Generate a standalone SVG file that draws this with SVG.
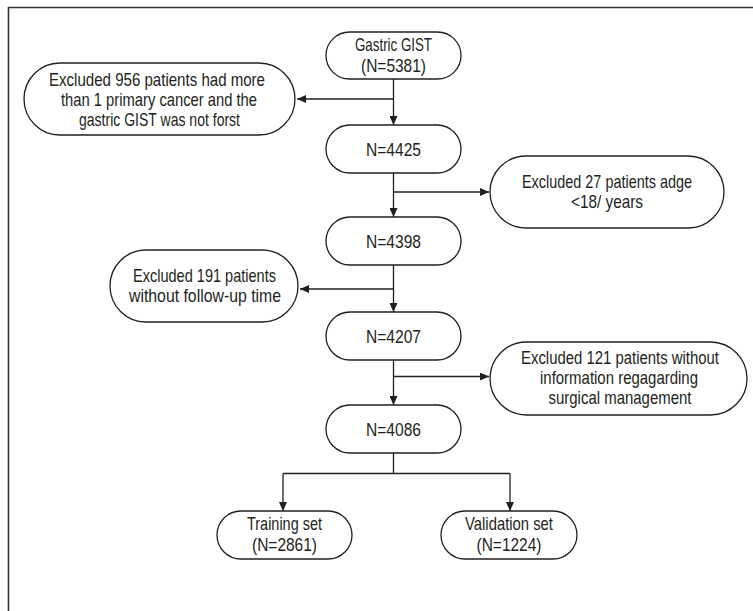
<svg xmlns="http://www.w3.org/2000/svg" width="753" height="611" viewBox="0 0 753 611">
<style>
.box{fill:#fff;stroke:#231f20;stroke-width:1.3}
.t{font-family:"Liberation Sans",Arial,sans-serif;font-size:18.5px;fill:#231f20;text-anchor:middle}
.s{font-size:17.5px}
.c{fill:none;stroke:#231f20;stroke-width:1.3}
</style>
<defs>
<marker id="ah" markerUnits="userSpaceOnUse" markerWidth="10" markerHeight="8" refX="9" refY="4" orient="auto">
<path d="M0,0 L9,4 L0,8 Z" fill="#231f20"/>
</marker>
</defs>
<rect width="753" height="611" fill="#fff"/>
<path d="M8.5,611 V7.5 H753" fill="none" stroke="#333" stroke-width="1.6"/>
<g id="connectors">
<path class="c" d="M393.5,79 V125" marker-end="url(#ah)"/>
<path class="c" d="M393.5,99 H297" marker-end="url(#ah)"/>
<path class="c" d="M393.5,173 V217" marker-end="url(#ah)"/>
<path class="c" d="M393.5,192 H489" marker-end="url(#ah)"/>
<path class="c" d="M393.5,265 V312" marker-end="url(#ah)"/>
<path class="c" d="M393.5,289 H300" marker-end="url(#ah)"/>
<path class="c" d="M393.5,360 V405" marker-end="url(#ah)"/>
<path class="c" d="M393.5,376.5 H489" marker-end="url(#ah)"/>
<path class="c" d="M393.5,453 V473.5 M283,473.5 H510"/>
<path class="c" d="M283,473.5 V511" marker-end="url(#ah)"/>
<path class="c" d="M510,473.5 V511" marker-end="url(#ah)"/>
</g>
<g id="n-gastric">
<rect class="box" x="326" y="32" width="135" height="47" rx="23.5"/>
<text class="t" x="393.5" y="51" textLength="77" lengthAdjust="spacingAndGlyphs">Gastric GIST</text>
<text class="t" x="393.5" y="72" textLength="65" lengthAdjust="spacingAndGlyphs">(N=5381)</text>
</g>
<g id="n-excl1">
<rect class="box" x="24" y="63" width="271" height="72" rx="36"/>
<text class="t" x="157" y="86" textLength="216" lengthAdjust="spacingAndGlyphs">Excluded 956 patients had more</text>
<text class="t" x="159" y="106" textLength="196" lengthAdjust="spacingAndGlyphs">than 1 primary cancer and the</text>
<text class="t" x="159.5" y="126" textLength="161" lengthAdjust="spacingAndGlyphs">gastric GIST was not forst</text>
</g>
<g id="n-4425">
<rect class="box" x="326" y="125" width="135" height="48" rx="24"/>
<text class="t" x="393.5" y="155.5" textLength="55" lengthAdjust="spacingAndGlyphs">N=4425</text>
</g>
<g id="n-excl2">
<rect class="box" x="490" y="156" width="234" height="72" rx="36"/>
<text class="t" x="607" y="188" textLength="170" lengthAdjust="spacingAndGlyphs">Excluded 27 patients adge</text>
<text class="t" x="607" y="208" textLength="72" lengthAdjust="spacingAndGlyphs">&lt;18/ years</text>
</g>
<g id="n-4398">
<rect class="box" x="326" y="217" width="135" height="48" rx="24"/>
<text class="t" x="393.5" y="247.5" textLength="55" lengthAdjust="spacingAndGlyphs">N=4398</text>
</g>
<g id="n-excl3">
<rect class="box" x="110" y="250" width="188" height="72" rx="36"/>
<text class="t" x="204.5" y="282" textLength="143" lengthAdjust="spacingAndGlyphs">Excluded 191 patients</text>
<text class="t" x="205" y="302" textLength="152" lengthAdjust="spacingAndGlyphs">without follow-up time</text>
</g>
<g id="n-4207">
<rect class="box" x="326" y="312" width="135" height="48" rx="24"/>
<text class="t" x="393.5" y="342.5" textLength="55" lengthAdjust="spacingAndGlyphs">N=4207</text>
</g>
<g id="n-excl4">
<rect class="box" x="490" y="342" width="257" height="73" rx="36.5"/>
<text class="t s" x="620" y="363.5" textLength="198" lengthAdjust="spacingAndGlyphs">Excluded 121 patients without</text>
<text class="t" x="619" y="383.5" textLength="158" lengthAdjust="spacingAndGlyphs">information regagarding</text>
<text class="t" x="620" y="403.5" textLength="143" lengthAdjust="spacingAndGlyphs">surgical management</text>
</g>
<g id="n-4086">
<rect class="box" x="326" y="405" width="135" height="48" rx="24"/>
<text class="t" x="393.5" y="435.5" textLength="55" lengthAdjust="spacingAndGlyphs">N=4086</text>
</g>
<g id="n-training">
<rect class="box" x="217" y="511" width="135" height="48" rx="24"/>
<text class="t" x="284.5" y="530" textLength="75" lengthAdjust="spacingAndGlyphs">Training set</text>
<text class="t" x="284.5" y="551" textLength="65" lengthAdjust="spacingAndGlyphs">(N=2861)</text>
</g>
<g id="n-validation">
<rect class="box" x="441" y="511" width="136" height="48" rx="24"/>
<text class="t" x="509" y="530" textLength="88" lengthAdjust="spacingAndGlyphs">Validation set</text>
<text class="t" x="509" y="551" textLength="65" lengthAdjust="spacingAndGlyphs">(N=1224)</text>
</g>
</svg>
